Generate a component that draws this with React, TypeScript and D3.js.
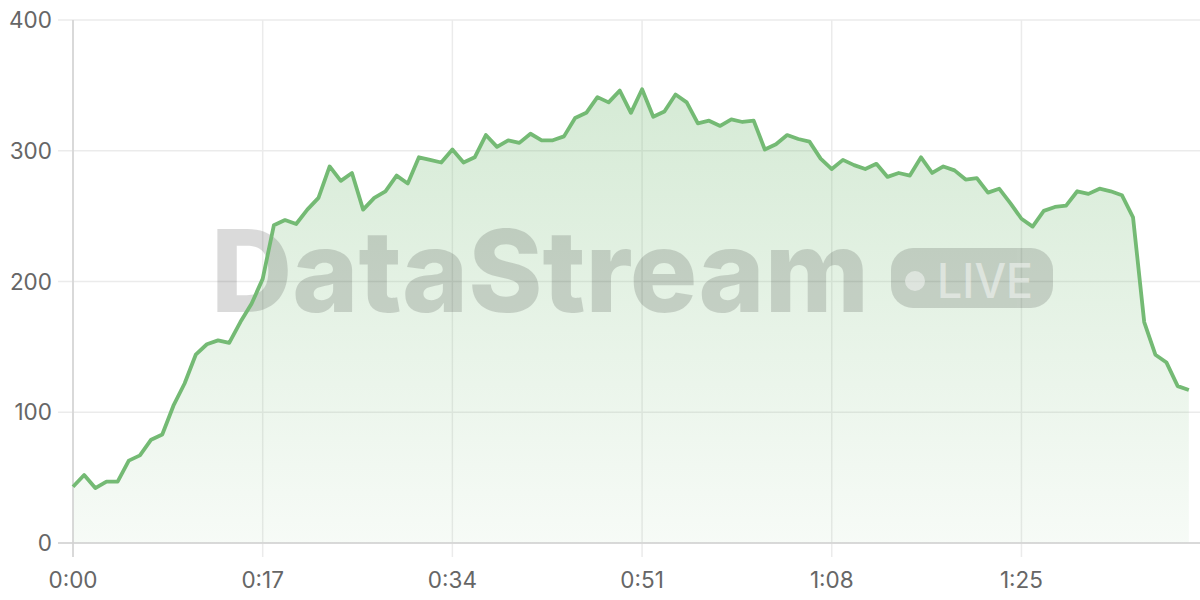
import * as React from 'react'
import * as d3 from 'd3'

// one sample per second, 0..100
const seconds: number[] = d3.range(0, 101)
const values: number[] = [
	43, 52, 42, 47, 47, 63, 67, 79, 83, 105,
	122, 144, 152, 155, 153, 169, 183, 202, 243, 247,
	244, 255, 264, 288, 277, 283, 255, 264, 269, 281,
	275, 295, 293, 291, 301, 291, 295, 312, 303, 308,
	306, 313, 308, 308, 311, 325, 329, 341, 337, 346,
	329, 347, 326, 330, 343, 337, 321, 323, 319, 324,
	322, 323, 301, 305, 312, 309, 307, 294, 286, 293,
	289, 286, 290, 280, 283, 281, 295, 283, 288, 285,
	278, 279, 268, 271, 260, 248, 242, 254, 257, 258,
	269, 267, 271, 269, 266, 249, 169, 144, 138, 120,
	117,
]
const xTicks: number[] = [0, 17, 34, 51, 68, 85]
const yTicks: number[] = [0, 100, 200, 300, 400]

const W = 1200
const H = 600
const m = { left: 73, right: 0, top: 20, bottom: 57 }

const fmtTime = (s: number) => `${Math.floor(s / 60)}:${String(s % 60).padStart(2, '0')}`

const App: React.FC = () => {
	const x = d3.scaleLinear().domain([0, 101]).range([m.left, W - m.right])
	const y = d3.scaleLinear().domain([0, 400]).range([H - m.bottom, m.top])

	const pts: [number, number][] = seconds.map((s, i) => [s, values[i]])

	const line = d3.line<[number, number]>()
		.x(d => x(d[0]))
		.y(d => y(d[1]))
	const area = d3.area<[number, number]>()
		.x(d => x(d[0]))
		.y0(y(0))
		.y1(d => y(d[1]))

	const font = 'Inter, "Noto Sans", sans-serif'

	return (
		<svg width={W} height={H} style={{ position: 'absolute', left: 0, top: 0 }}>
			<defs>
				<linearGradient id="fillGrad" x1="0" y1="0" x2="0" y2="1">
					<stop offset="0%" stopColor="#74ba74" stopOpacity={0.3} />
					<stop offset="100%" stopColor="#74ba74" stopOpacity={0.06} />
				</linearGradient>
			</defs>

			{/* grid */}
			<g>
				{yTicks.map(t => (
					<line key={'gy' + t} x1={m.left - 15} x2={W} y1={y(t)} y2={y(t)}
						stroke="#ebebeb" strokeWidth={1.5} />
				))}
				{xTicks.map(t => (
					<line key={'gx' + t} x1={x(t)} x2={x(t)} y1={m.top} y2={H - m.bottom + 14}
						stroke="#ebebeb" strokeWidth={1.5} />
				))}
			</g>

			<path d={area(pts)!} fill="url(#fillGrad)" />

			{/* watermark */}
			<g fontFamily={font} fill="#000" opacity={0.14}>
				<text x={211} y={312} fontSize={114} fontWeight={800}
					textLength={658} lengthAdjust="spacingAndGlyphs">DataStream</text>
				<rect x={891} y={248} width={162} height={60} rx={22} />
			</g>
			<g fontFamily={font} fill="#fff" opacity={0.45}>
				<circle cx={915} cy={281} r={10} />
				<text x={937} y={298} fontSize={48} fontWeight={500}
					textLength={96} lengthAdjust="spacingAndGlyphs">LIVE</text>
			</g>

			{/* axes */}
			<line x1={m.left} x2={m.left} y1={m.top} y2={H - m.bottom + 14} stroke="#d2d2d2" strokeWidth={1.5} />
			<line x1={m.left - 15} x2={W} y1={y(0)} y2={y(0)} stroke="#d2d2d2" strokeWidth={1.5} />

			<path d={line(pts)!} fill="none" stroke="#74ba74" strokeWidth={3.8} strokeLinejoin="round" />

			<g fontFamily={font} fontSize={22.5} fill="#666">
				{yTicks.map(t => (
					<text key={'ly' + t} x={m.left - 21} y={y(t)} dy="0.36em" textAnchor="end">{t}</text>
				))}
				{xTicks.map(t => (
					<text key={'lx' + t} x={x(t)} y={H - 12} textAnchor="middle">{fmtTime(t)}</text>
				))}
			</g>
		</svg>
	)
}

export default App
